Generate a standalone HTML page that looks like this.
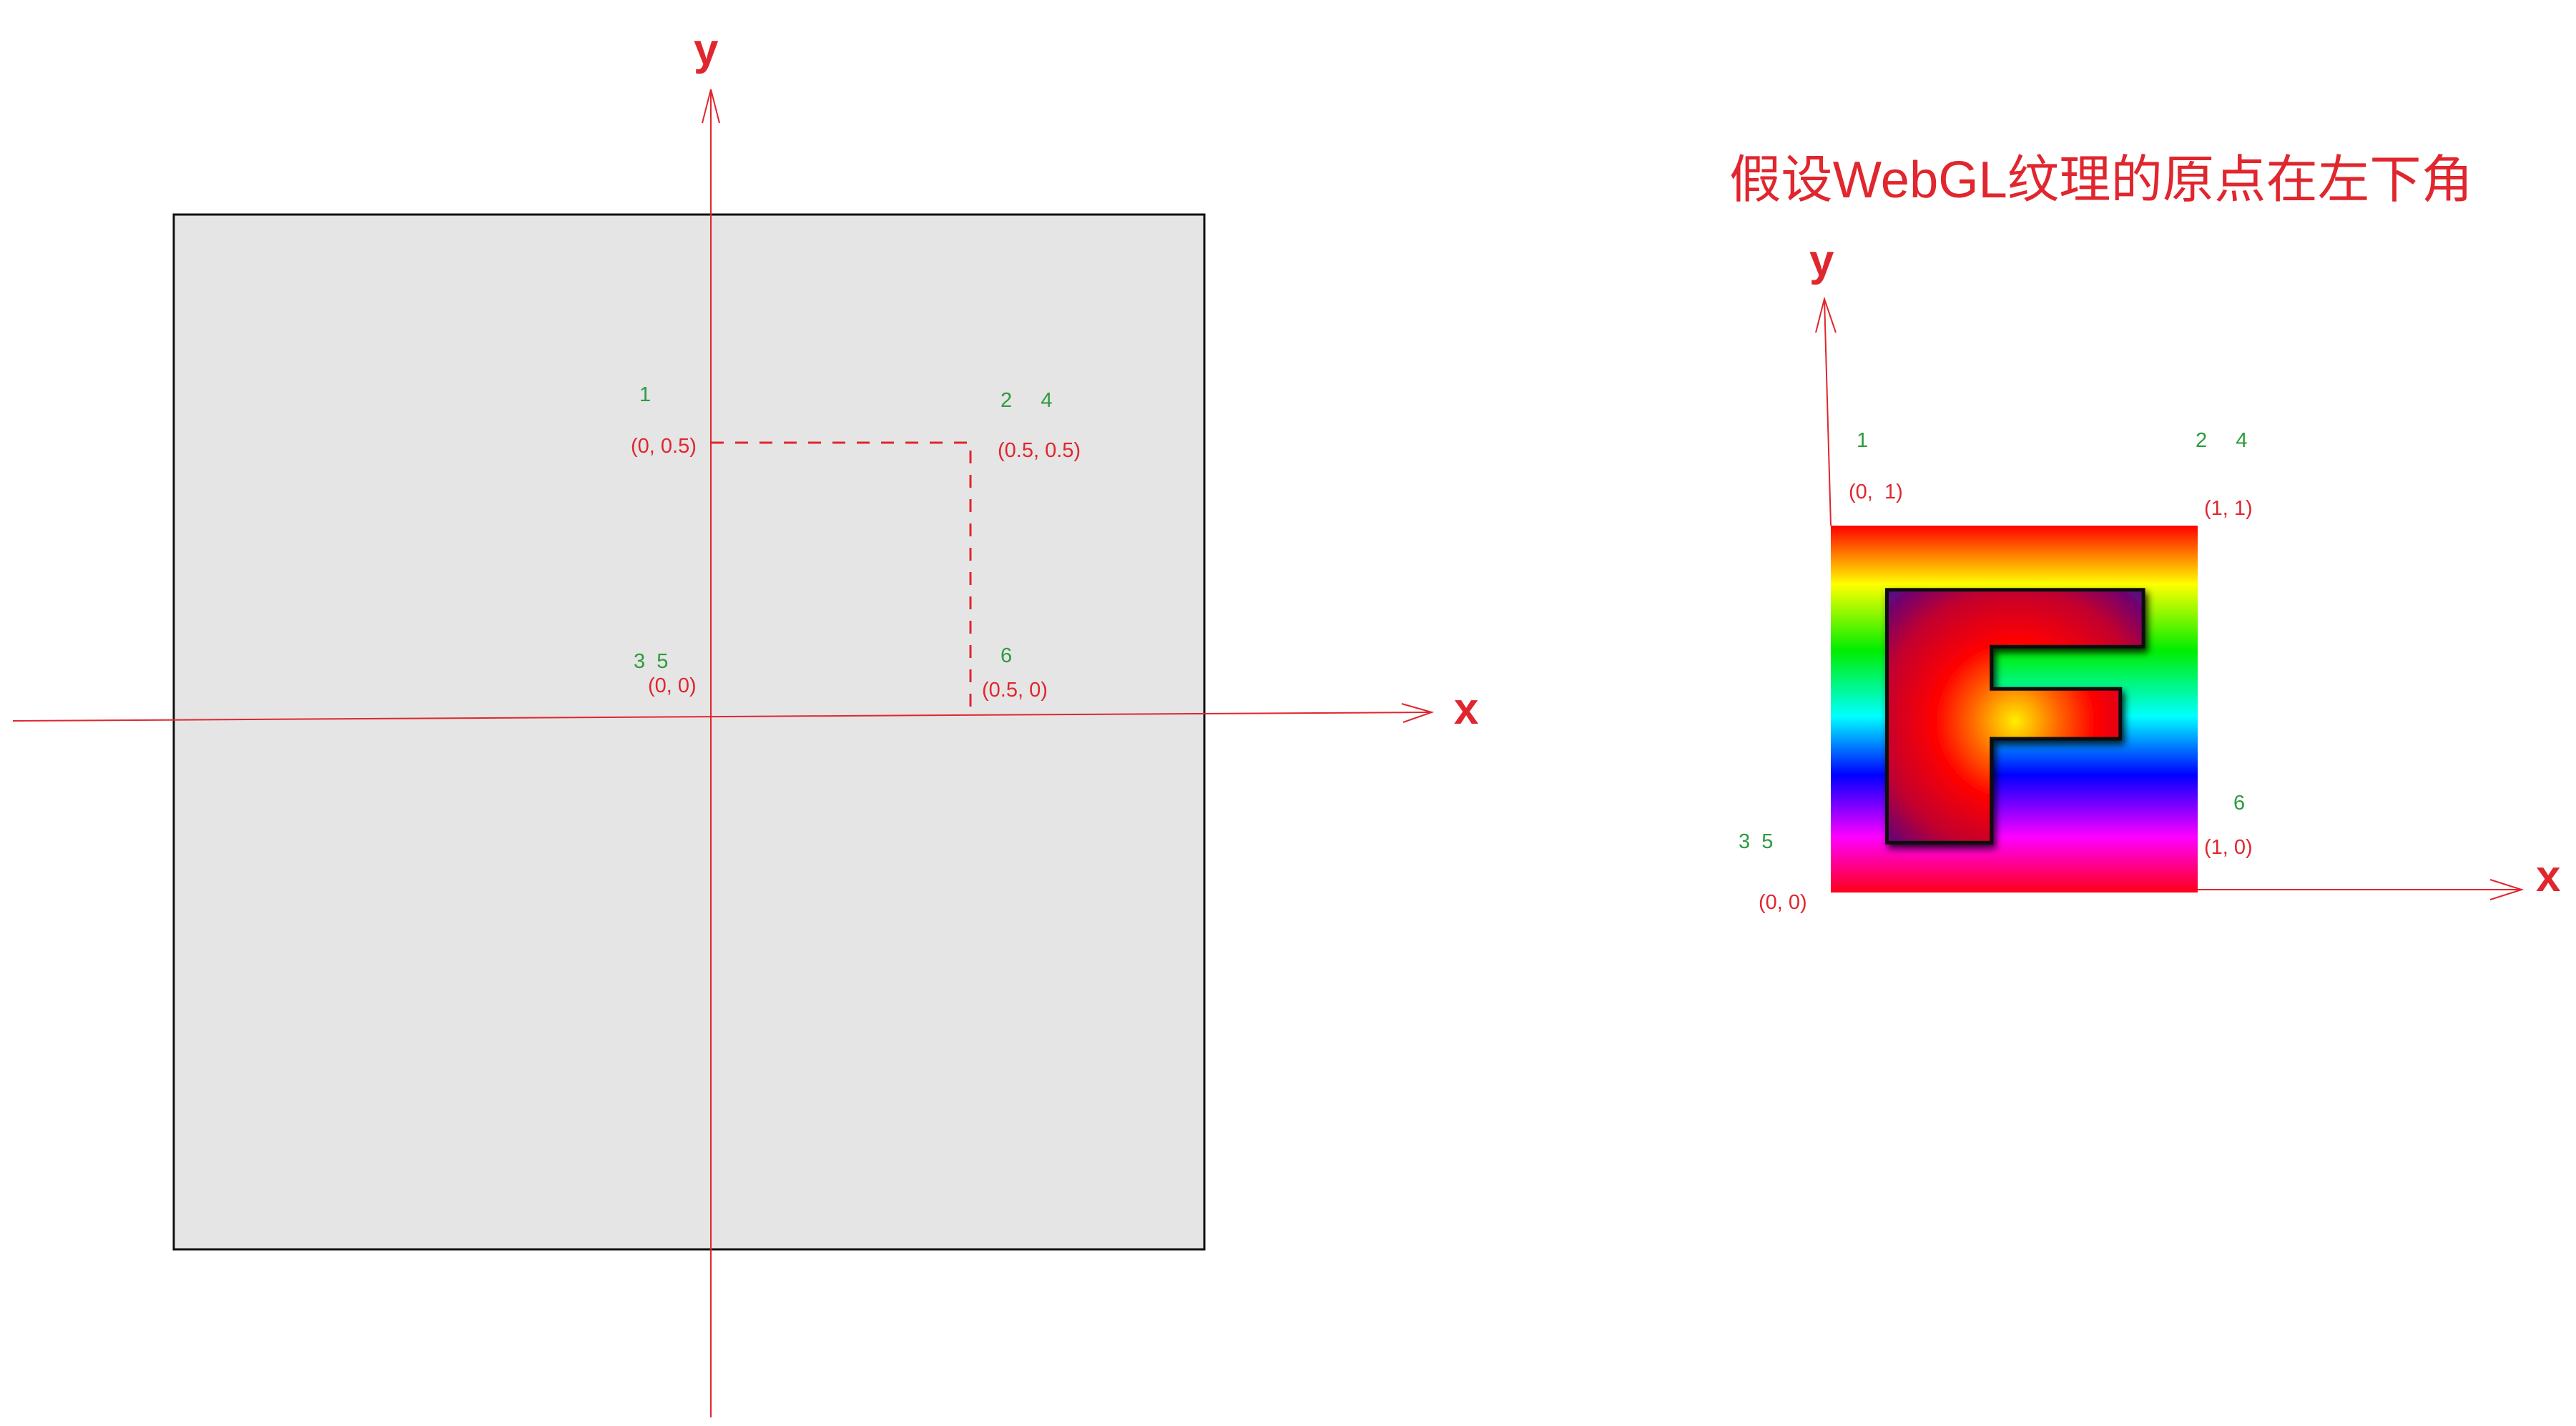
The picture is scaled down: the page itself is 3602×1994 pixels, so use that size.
<!DOCTYPE html>
<html><head><meta charset="utf-8">
<style>
html,body{margin:0;padding:0;background:#fff;}
svg{display:block;}
text{font-family:"Liberation Sans","Noto Sans CJK SC",sans-serif;white-space:pre;}
.g{fill:#2e9b3e;font-size:29px;}
.r{fill:#e0262e;font-size:29px;}
</style></head>
<body>
<svg id="chart" width="3602" height="1994" viewBox="0 0 3602 1994" xmlns="http://www.w3.org/2000/svg">
<defs>
<linearGradient id="rainbow" x1="0" y1="0" x2="0" y2="1">
<stop offset="0" stop-color="#ff0000"/>
<stop offset="0.16" stop-color="#ffff00"/>
<stop offset="0.34" stop-color="#00ee00"/>
<stop offset="0.52" stop-color="#00ffff"/>
<stop offset="0.68" stop-color="#0000ff"/>
<stop offset="0.85" stop-color="#ff00ff"/>
<stop offset="1" stop-color="#ff0018"/>
</linearGradient>
<radialGradient id="fgrad" cx="0.5" cy="0.52" r="0.75" gradientUnits="objectBoundingBox">
<stop offset="0" stop-color="#ffee00"/>
<stop offset="0.22" stop-color="#ff6a00"/>
<stop offset="0.42" stop-color="#ff0000"/>
<stop offset="0.7" stop-color="#c00030"/>
<stop offset="1" stop-color="#3a0a9a"/>
</radialGradient>
<filter id="shadow" x="-10%" y="-10%" width="130%" height="130%">
<feDropShadow dx="4" dy="6" stdDeviation="5" flood-color="#000" flood-opacity="0.8"/>
</filter>
</defs>

<rect x="243" y="300" width="1441" height="1447" fill="#e5e5e5" stroke="#111" stroke-width="3"/>
<g id="left"></g>

<text x="2418" y="276" font-size="72" fill="#e0262e" textLength="1040" lengthAdjust="spacingAndGlyphs">假设WebGL纹理的原点在左下角</text>
<rect x="2560" y="735" width="513" height="513" fill="url(#rainbow)"/>
<path id="fpath" fill="url(#fgrad)" stroke="#111" stroke-width="5" filter="url(#shadow)"/>
<g id="right"></g>

<script>
const leftPts = [[0,0.5],[0.5,0.5],[0,0],[0.5,0]];
const leftCoordLabels = ["(0, 0.5)","(0.5, 0.5)","(0, 0)","(0.5, 0)"];
const leftVertexLabels = ["1","2     4","3  5","6"];
const rightCoordLabels = ["(0,  1)","(1, 1)","(0, 0)","(1, 0)"];
const rightVertexLabels = ["1","2     4","3  5","6"];

const NS = "http://www.w3.org/2000/svg";
function mk(parent, tag, attrs, txt){
  const e = document.createElementNS(NS, tag);
  for (const k in attrs) e.setAttribute(k, attrs[k]);
  if (txt !== undefined) e.textContent = txt;
  parent.appendChild(e);
  return e;
}
const RED = "#e0262e";

const L = document.getElementById('left');
const lx = v => 994 + v * 726;
const ly = v => 998 - v * 758;
let e;
e = mk(L,'line',{x1:18,y1:1008,x2:2000,y2:996,stroke:RED,'stroke-width':2});


e = mk(L,'polyline',{points:"1960,984 2002,996 1962,1010",fill:'none',stroke:RED,'stroke-width':2});


e = mk(L,'line',{x1:994,y1:1982,x2:994,y2:125,stroke:RED,'stroke-width':2});


e = mk(L,'polyline',{points:"982,172 994,125 1006,172",fill:'none',stroke:RED,'stroke-width':2});


e = mk(L,'text',{x:2033,y:1012,'font-size':62,fill:RED,'font-weight':'bold'},'x');


e = mk(L,'text',{x:970,y:90,'font-size':62,fill:RED,'font-weight':'bold'},'y');


e = mk(L,'polyline',{points:`${lx(0)},${ly(leftPts[1][1])} ${lx(leftPts[1][0])},${ly(leftPts[1][1])} ${lx(leftPts[3][0])},${ly(leftPts[3][1])}`,fill:'none',stroke:RED,'stroke-width':3,'stroke-dasharray':'18,16'});


const lOff = [[-112,14,-100,-58],[38,20,42,-50],[-88,-30,-108,-64],[16,-24,42,-72]];
leftPts.forEach((p,i)=>{
  const x = lx(p[0]), y = ly(p[1]);
  let t = mk(L,'text',{x:x+lOff[i][0],y:y+lOff[i][1],class:'r'},leftCoordLabels[i]);
  
  
  t = mk(L,'text',{x:x+lOff[i][2],y:y+lOff[i][3],class:'g'},leftVertexLabels[i]);
  
  
});

const R = document.getElementById('right');
const rx = v => 2560 + v * 513;
const ry = v => 1246 - v * 511;
e = mk(R,'line',{x1:3073,y1:1244,x2:3526,y2:1244,stroke:RED,'stroke-width':2});


e = mk(R,'polyline',{points:"3482,1230 3526,1244 3482,1258",fill:'none',stroke:RED,'stroke-width':2});


e = mk(R,'line',{x1:2560,y1:735,x2:2551,y2:418,stroke:RED,'stroke-width':2});


e = mk(R,'polyline',{points:"2539,465 2551,418 2567,465",fill:'none',stroke:RED,'stroke-width':2});


e = mk(R,'text',{x:3546,y:1246,'font-size':62,fill:RED,'font-weight':'bold'},'x');


e = mk(R,'text',{x:2530,y:385,'font-size':62,fill:RED,'font-weight':'bold'},'y');


const rPts = [[0,1],[1,1],[0,0],[1,0]];
const rOff = [[25,-38,36,-110],[9,-15,-3,-110],[-101,25,-129,-60],[9,-52,50,-114]];
rPts.forEach((p,i)=>{
  const x = rx(p[0]), y = ry(p[1]);
  let t = mk(R,'text',{x:x+rOff[i][0],y:y+rOff[i][1],class:'r'},rightCoordLabels[i]);
  
  
  t = mk(R,'text',{x:x+rOff[i][2],y:y+rOff[i][3],class:'g'},rightVertexLabels[i]);
  
  
});

const fx = f => 2560 + f*513, fy = f => 735 + f*513;
const F = [[0.153,0.175],[0.852,0.175],[0.852,0.33],[0.438,0.33],[0.438,0.445],[0.789,0.445],[0.789,0.581],[0.438,0.581],[0.438,0.864],[0.153,0.864]];
document.getElementById('fpath').setAttribute('d','M'+F.map(p=>fx(p[0])+','+fy(p[1])).join(' L')+' Z');
</script>
</svg>
</body></html>
